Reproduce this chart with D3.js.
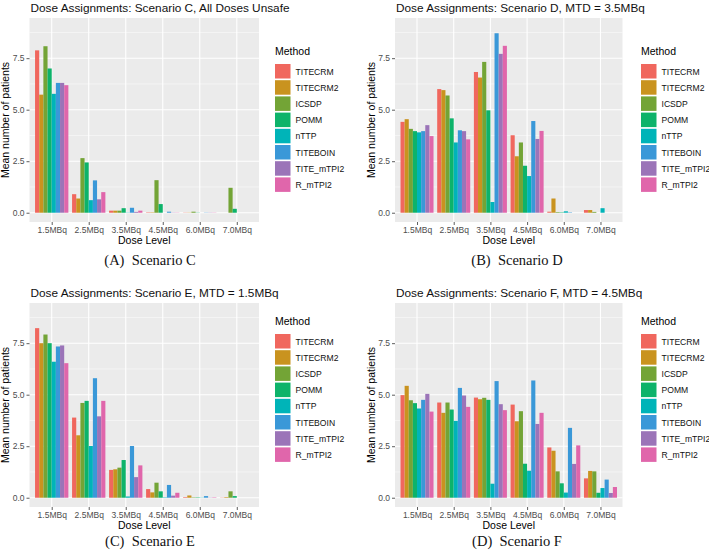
<!DOCTYPE html>
<html>
<head>
<meta charset="utf-8">
<script src="https://cdn.jsdelivr.net/npm/d3@7"></script>
<style>
  html, body { margin: 0; padding: 0; background: #fff; }
  svg { display: block; }
</style>
</head>
<body>
<svg id="chart" width="709" height="556"></svg>
<script>
// ---------- data ----------
const doseLevels = ["1.5MBq", "2.5MBq", "3.5MBq", "4.5MBq", "6.0MBq", "7.0MBq"];
const methods = ["TITECRM", "TITECRM2", "ICSDP", "POMM", "nTTP", "TITEBOIN", "TITE_mTPI2", "R_mTPI2"];
const methodColors = ["#F0675E", "#C9931F", "#73A436", "#0DB36A", "#00B4B8", "#3A98D8", "#9B74B8", "#E066AB"];
const yTicks = [0, 2.5, 5, 7.5];
const yTickLabels = ["0.0", "2.5", "5.0", "7.5"];

// rows = methods, columns = dose levels
const scenarioC = [
  [7.88, 0.90, 0.10, 0.02, 0.01, 0.00],
  [5.73, 0.69, 0.10, 0.02, 0.01, 0.00],
  [8.08, 2.65, 0.10, 1.58, 0.05, 1.21],
  [7.00, 2.44, 0.22, 0.42, 0.01, 0.19],
  [5.77, 0.61, 0.01, 0.00, 0.00, 0.00],
  [6.30, 1.57, 0.24, 0.05, 0.01, 0.00],
  [6.30, 0.65, 0.04, 0.01, 0.01, 0.00],
  [6.19, 1.00, 0.10, 0.01, 0.01, 0.00]
];
const scenarioD = [
  [4.41, 6.00, 6.83, 3.76, 0.05, 0.13],
  [4.54, 5.95, 6.56, 2.74, 0.69, 0.13],
  [4.07, 5.69, 7.32, 3.41, 0.03, 0.04],
  [3.96, 4.58, 4.97, 2.28, 0.02, 0.00],
  [3.90, 3.41, 0.52, 1.78, 0.07, 0.22],
  [3.96, 4.00, 8.71, 4.45, 0.02, 0.00],
  [4.25, 3.96, 7.71, 3.58, 0.00, 0.00],
  [3.72, 3.56, 8.10, 3.97, 0.00, 0.00]
];
const scenarioE = [
  [8.23, 3.89, 1.35, 0.42, 0.03, 0.01],
  [7.50, 3.03, 1.38, 0.26, 0.11, 0.03],
  [7.92, 4.60, 1.46, 0.73, 0.02, 0.31],
  [7.50, 4.70, 1.83, 0.31, 0.02, 0.08],
  [6.60, 2.51, 0.06, 0.02, 0.01, 0.00],
  [7.34, 5.80, 2.51, 0.62, 0.08, 0.00],
  [7.39, 3.95, 1.00, 0.10, 0.01, 0.00],
  [6.53, 4.70, 1.57, 0.24, 0.02, 0.00]
];
const scenarioF = [
  [4.98, 4.62, 4.86, 4.52, 2.44, 0.94],
  [5.43, 4.12, 4.78, 3.71, 2.28, 1.30],
  [4.73, 4.62, 4.85, 4.20, 1.28, 1.28],
  [4.59, 4.28, 4.75, 1.65, 0.70, 0.24],
  [4.33, 3.73, 0.68, 1.31, 0.25, 0.47],
  [4.75, 5.33, 5.66, 5.69, 3.39, 0.88],
  [5.04, 4.96, 4.54, 3.58, 1.64, 0.23],
  [4.18, 4.41, 4.25, 4.12, 2.54, 0.52]
];
const panelTitles = [
  "Dose Assignments: Scenario C, All Doses Unsafe",
  "Dose Assignments: Scenario D, MTD = 3.5MBq",
  "Dose Assignments: Scenario E, MTD = 1.5MBq",
  "Dose Assignments: Scenario F, MTD = 4.5MBq"
];
const subCaptions = ["(A)\u2002Scenario C", "(B)\u2002Scenario D", "(C)\u2002Scenario E", "(D)\u2002Scenario F"];
const scenarios = [scenarioC, scenarioD, scenarioE, scenarioF];

// ---------- layout ----------
const layouts = [
  {x0: 29.5, x1: 259,   y0: 18,  y1: 222, legX: 275, legY: 55,  capX: 150, capY: 265},
  {x0: 395,  x1: 622.5, y0: 18,  y1: 222, legX: 641, legY: 55,  capX: 517, capY: 265},
  {x0: 29.5, x1: 259,   y0: 303, y1: 507, legX: 275, legY: 325, capX: 150, capY: 546},
  {x0: 395,  x1: 622.5, y0: 303, y1: 507, legX: 641, legY: 325, capX: 517, capY: 546}
];
const sans = "Liberation Sans, Arial, Helvetica, sans-serif";
const svg = d3.select("#chart");

scenarios.forEach((data, p) => {
  const L = layouts[p];
  const g = svg.append("g");

  const x = d3.scalePoint().domain(doseLevels).range([L.x0, L.x1]).padding(0.6);
  const step = x.step();
  const xInner = d3.scaleBand().domain(methods).range([-0.45 * step, 0.45 * step]);
  const y = d3.scaleLinear().domain([-0.45, 9.45]).range([L.y1, L.y0]);
  const color = d3.scaleOrdinal().domain(methods).range(methodColors);

  // panel background
  g.append("rect").attr("x", L.x0).attr("y", L.y0)
    .attr("width", L.x1 - L.x0).attr("height", L.y1 - L.y0).attr("fill", "#EBEBEB");

  // minor grid
  const minor = d3.range(0, 4).map(i => 1.25 + 2.5 * i);
  g.selectAll(".minor").data(minor).join("line")
    .attr("x1", L.x0).attr("x2", L.x1)
    .attr("y1", d => y(d)).attr("y2", d => y(d))
    .attr("stroke", "#fff").attr("stroke-width", 0.5);
  // major grid
  g.selectAll(".majy").data(yTicks).join("line")
    .attr("x1", L.x0).attr("x2", L.x1)
    .attr("y1", d => y(d)).attr("y2", d => y(d))
    .attr("stroke", "#fff").attr("stroke-width", 1.1);
  g.selectAll(".majx").data(doseLevels).join("line")
    .attr("x1", d => x(d)).attr("x2", d => x(d))
    .attr("y1", L.y0).attr("y2", L.y1)
    .attr("stroke", "#fff").attr("stroke-width", 1.1);

  // bars
  const flat = [];
  data.forEach((row, mi) => row.forEach((v, di) => flat.push({m: methods[mi], d: doseLevels[di], v})));
  g.selectAll(".bar").data(flat).join("rect")
    .attr("x", d => x(d.d) + xInner(d.m))
    .attr("width", xInner.bandwidth())
    .attr("y", d => y(d.v))
    .attr("height", d => Math.max(0, y(0) - y(d.v)))
    .attr("fill", d => color(d.m));

  // y axis
  const yAxis = d3.axisLeft(y).tickValues(yTicks).tickSize(3).tickPadding(2)
    .tickFormat((d, i) => yTickLabels[i]);
  const ya = g.append("g").attr("transform", `translate(${L.x0},0)`).call(yAxis);
  ya.select(".domain").remove();
  ya.selectAll("line").attr("stroke", "#333").attr("stroke-width", 0.8);
  ya.selectAll("text").attr("fill", "#4D4D4D").style("font-family", sans).style("font-size", "8.5px");

  // x axis
  const xAxis = d3.axisBottom(x).tickSize(3).tickPadding(2);
  const xa = g.append("g").attr("transform", `translate(0,${L.y1})`).call(xAxis);
  xa.select(".domain").remove();
  xa.selectAll("line").attr("stroke", "#333").attr("stroke-width", 0.8);
  xa.selectAll("text").attr("fill", "#4D4D4D").style("font-family", sans).style("font-size", "8.5px");

  // axis titles
  g.append("text").attr("x", (L.x0 + L.x1) / 2).attr("y", L.y1 + 22)
    .attr("text-anchor", "middle").style("font-family", sans).style("font-size", "10.5px")
    .text("Dose Level");
  g.append("text")
    .attr("transform", `translate(${L.x0 - 20.5},${(L.y0 + L.y1) / 2}) rotate(-90)`)
    .attr("text-anchor", "middle").style("font-family", sans).style("font-size", "10.5px")
    .text("Mean number of patients");

  // title
  g.append("text").attr("x", L.x0 + 1).attr("y", L.y0 - 6)
    .style("font-family", sans).style("font-size", "11.8px").attr("fill", "#111")
    .text(panelTitles[p]);

  // legend
  const lg = g.append("g").attr("transform", `translate(${L.legX},${L.legY})`);
  lg.append("text").attr("x", 0).attr("y", 0).style("font-family", sans)
    .style("font-size", "10.5px").text("Method");
  const items = lg.selectAll(".item").data(methods).join("g")
    .attr("transform", (d, i) => `translate(0,${9 + i * 16.2})`);
  items.append("rect").attr("width", 15.5).attr("height", 14.5).attr("fill", d => color(d));
  items.append("text").attr("x", 20.5).attr("y", 10.5)
    .style("font-family", sans).style("font-size", "8.6px").attr("fill", "#111").text(d => d);

  // sub caption
  svg.append("text").attr("x", L.capX).attr("y", L.capY)
    .attr("text-anchor", "middle").style("font-family", "Liberation Serif, Times New Roman, serif")
    .style("font-size", "14.5px").attr("fill", "#111").text(subCaptions[p]);
});
</script>
</body>
</html>
